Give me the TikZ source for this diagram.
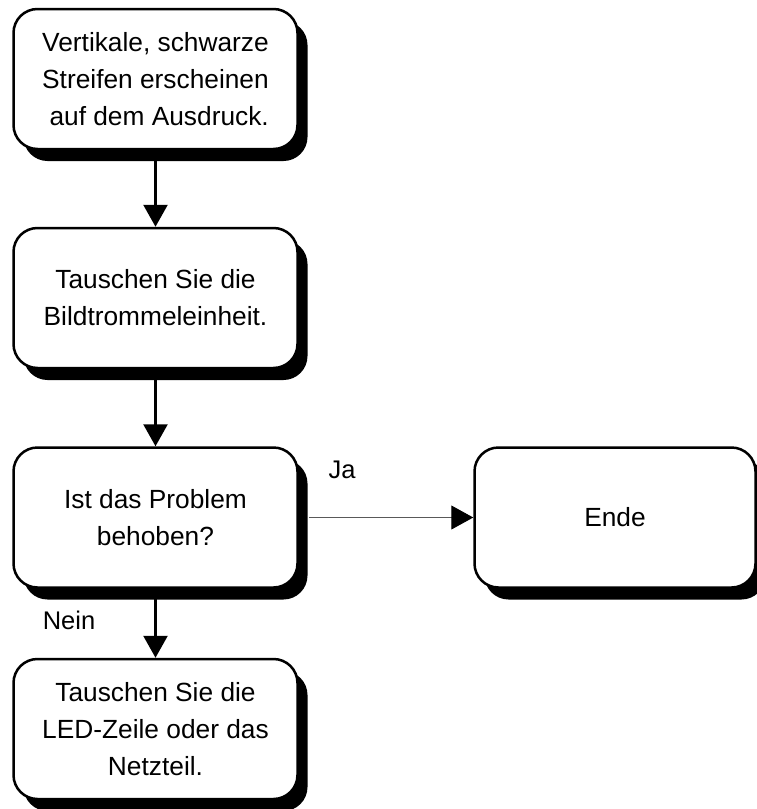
\documentclass[tikz,border=0pt]{standalone}
\usepackage{fontspec}
\setmainfont{Liberation Sans}
\usetikzlibrary{arrows.meta,shadows}
\begin{document}
\begin{tikzpicture}[x=1pt,y=-1pt,
  box/.style={draw=black, line width=2.5pt, rounded corners=24pt, fill=white,
    minimum width=284pt, minimum height=140pt, align=center, inner sep=0pt,
    font=\fontsize{26.3}{37}\selectfont,
    drop shadow={shadow xshift=10pt, shadow yshift=-12pt, fill=black, opacity=1}},
  arr/.style={line width=2.5pt, -{Triangle[width=24pt,length=22pt]}},
  thinarr/.style={line width=1pt, draw=black!65, -{Triangle[width=24pt,length=22pt,black]}},
  lbl/.style={font=\fontsize{25.5}{30}\selectfont, inner sep=0pt, anchor=base}
]
\useasboundingbox (0,0) rectangle (757,809);
\node[box] (b1) at (155.5,79) {Vertikale, schwarze\\Streifen erscheinen\\\ auf dem Ausdruck.};
\node[box] (b2) at (155.5,298) {Tauschen Sie die\\Bildtrommeleinheit.};
\node[box] (b3) at (155.5,517.5) {Ist das Problem\\behoben?};
\node[box] (b4) at (155.5,729) {Tauschen Sie die\\LED-Zeile oder das\\Netzteil.};
\node[box, minimum width=281pt] (b5) at (615,517.5) {Ende};
\draw[arr] (b1.south) -- (b2.north);
\draw[arr] (b2.south) -- (b3.north);
\draw[arr] (b3.south) -- (b4.north);
\draw[thinarr, shorten <=10pt] (b3.east) -- (b5.west);
\node[lbl] (ja) at (342,478) {Ja};
\node[lbl] (nein) at (69,629) {Nein};
\end{tikzpicture}
\end{document}
